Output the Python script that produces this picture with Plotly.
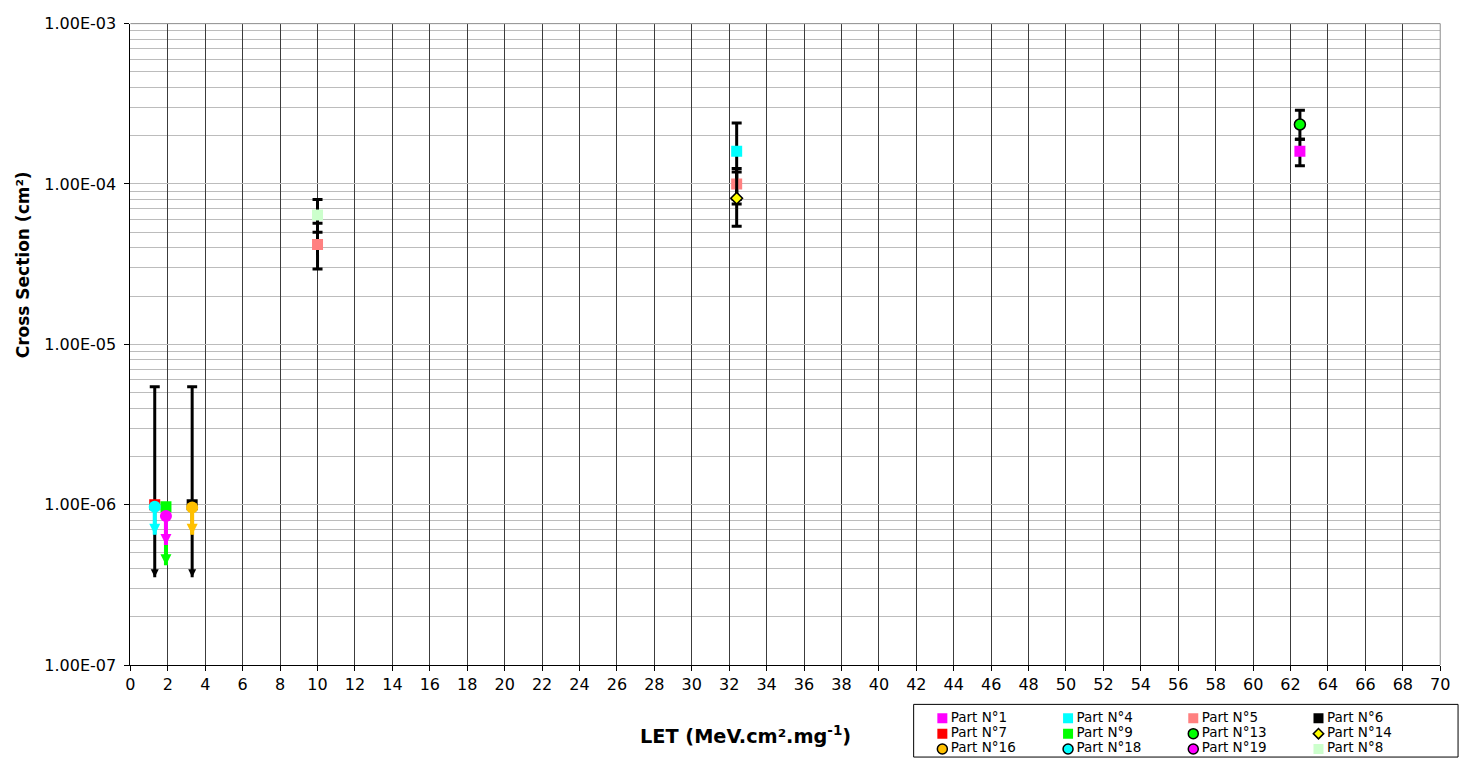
import plotly.graph_objects as go

# ---------------------------------------------------------------- data ----
part_names = ["Part N°1", "Part N°4", "Part N°5", "Part N°6",
              "Part N°7", "Part N°9", "Part N°13", "Part N°14",
              "Part N°16", "Part N°18", "Part N°19", "Part N°8"]

# LET of every measured point (MeV.cm².mg-1)
part_let = [[62.5], [32.4], [10.0, 32.4], [3.3],
            [1.3], [1.9], [62.5], [32.4],
            [3.3], [1.3], [1.9], [10.0]]

# measured cross sections (cm²)
part_sigma = [[1.6e-4], [1.6e-4], [4.2e-5, 1.0e-4], [1.0e-6],
              [1.0e-6], [9.7e-7], [2.35e-4], [8.15e-5],
              [9.6e-7], [9.7e-7], [8.5e-7], [6.4e-5]]

# upper / lower ends of the error bars (None: no bar)
part_sigma_hi = [[1.9e-4], [2.4e-4], [5.7e-5, 1.25e-4], [5.45e-6],
                 [5.45e-6], None, [2.88e-4], [1.19e-4],
                 None, None, None, [8.0e-5]]
part_sigma_lo = [[1.3e-4], [8.0e-5], [2.95e-5, 7.5e-5], None,
                 None, None, [1.9e-4], [5.46e-5],
                 None, None, None, [5.0e-5]]

# upper-limit points: cross section where the downward arrow ends
part_limit_end = [None, None, None, 3.53e-7,
                  3.53e-7, 4.2e-7, None, None,
                  6.5e-7, 6.5e-7, 5.6e-7, None]

x_tick_vals = list(range(0, 71, 2))
y_tick_vals = [1e-7, 1e-6, 1e-5, 1e-4, 1e-3]
y_tick_text = ["1.00E-07", "1.00E-06", "1.00E-05", "1.00E-04", "1.00E-03"]
y_minor_vals = [k * 10.0 ** e for e in range(-7, -3) for k in range(2, 10)]

# -------------------------------------------------------------- styles ----
FONT = "DejaVu Sans, Arial, sans-serif"
part_colors = ["#FF00FF", "#00FFFF", "#FF8080", "#000000",
               "#FF0000", "#00FF00", "#00FF00", "#FFFF00",
               "#FFC000", "#00FFFF", "#FF00FF", "#CCFFCC"]
part_symbols = ["square", "square", "square", "square",
                "square", "square", "circle", "diamond",
                "circle", "circle", "circle", "square"]
part_sizes = [11, 11, 11, 11, 11, 11, 11, 9, 12, 12, 12, 11]
part_edge = [0, 0, 0, 0, 0, 0, 1.5, 1.5, 0, 0, 0, 0]
legend_edge = [0, 0, 0, 0, 0, 0, 1.5, 1.5, 1.5, 1.5, 1.5, 0]
legend_sizes = [10, 10, 10, 10, 10, 10, 10, 8, 10, 10, 10, 10]
# arrows of the upper limits: black when drawn with an error bar
arrow_colors = [None, None, None, "#000000",
                "#000000", "#00FF00", None, None,
                "#FFC000", "#00FFFF", "#FF00FF", None]

fig = go.Figure()

for i, name in enumerate(part_names):
    xs = part_let[i]
    ys = part_sigma[i]

    # downward arrow for the upper-limit points, under the marker
    if part_limit_end[i] is not None:
        col = arrow_colors[i]
        black = col == "#000000"
        fig.add_trace(go.Scatter(
            x=[xs[0], xs[0]], y=[ys[0], part_limit_end[i]],
            mode="lines", line=dict(color=col, width=3 if black else 4),
            showlegend=False, hoverinfo="skip"))
        fig.add_trace(go.Scatter(
            x=[xs[0]], y=[part_limit_end[i]], mode="markers",
            marker=dict(symbol="arrow-down", size=8 if black else 11,
                        color=col, line=dict(width=0)),
            showlegend=False, hoverinfo="skip"))

    err = None
    if part_sigma_hi[i] is not None:
        plus = [h - v for h, v in zip(part_sigma_hi[i], ys)]
        if part_sigma_lo[i] is not None:
            minus = [v - l for l, v in zip(part_sigma_lo[i], ys)]
        else:
            minus = [0.0] * len(ys)
        err = dict(type="data", symmetric=False, array=plus, arrayminus=minus,
                   color="#000000", thickness=3, width=5)

    fig.add_trace(go.Scatter(
        x=xs, y=ys, mode="markers", name=name, error_y=err,
        marker=dict(symbol=part_symbols[i], size=part_sizes[i],
                    color=part_colors[i],
                    line=dict(color="#000000", width=part_edge[i])),
        showlegend=False))

# ------------------------------------------------------ legend block ------
# keys laid out on a small hidden axis pair measured in pixels
legend_col_x = [29, 156, 282.5, 409]
legend_row_y = [39.8, 24.0, 8.2]
for i, name in enumerate(part_names):
    cx = legend_col_x[i % 4]
    cy = legend_row_y[i // 4]
    fig.add_trace(go.Scatter(
        x=[cx], y=[cy], xaxis="x2", yaxis="y2", mode="markers",
        marker=dict(symbol=part_symbols[i], size=legend_sizes[i],
                    color=part_colors[i],
                    line=dict(color="#000000", width=legend_edge[i])),
        showlegend=False, hoverinfo="skip"))
    fig.add_trace(go.Scatter(
        x=[cx + 8.5], y=[cy], xaxis="x2", yaxis="y2", mode="text",
        text=[name], textposition="middle right",
        textfont=dict(family=FONT, size=13.5, color="black"),
        showlegend=False, hoverinfo="skip"))

W, H = 1473, 769
fig.update_layout(
    width=W, height=H,
    margin=dict(l=0, r=0, t=0, b=0),
    paper_bgcolor="white", plot_bgcolor="white",
    showlegend=False,
    font=dict(family=FONT, size=16, color="black"),
    xaxis=dict(domain=[126.7 / W, 1450 / W], range=[0, 70], anchor="y",
               tickmode="array", tickvals=x_tick_vals,
               ticks="outside", ticklen=5, tickcolor="black",
               showline=True, linecolor="black", linewidth=1,
               showgrid=True, gridcolor="#3c3c3c", gridwidth=1,
               zeroline=False, tickfont=dict(family=FONT, size=16)),
    yaxis=dict(type="log", domain=[(H - 672.7) / H, (H - 15) / H],
               range=[-7, -3], anchor="x",
               tickmode="array", tickvals=y_tick_vals, ticktext=y_tick_text,
               ticks="outside", ticklen=5, tickcolor="black",
               ticklabelstandoff=5,
               showline=True, linecolor="black", linewidth=1,
               showgrid=True, gridcolor="#bcbcbc", gridwidth=1,
               minor=dict(tickmode="array", tickvals=y_minor_vals,
                          showgrid=True, gridcolor="#bcbcbc", ticks=""),
               zeroline=False, tickfont=dict(family=FONT, size=16)),
    xaxis2=dict(domain=[918 / W, 1468 / W], range=[0, 550], anchor="y2",
                visible=False, fixedrange=True),
    yaxis2=dict(domain=[2 / H, 56 / H], range=[0, 54], anchor="x2",
                visible=False, fixedrange=True),
)

# plot-area frame (top and right edges)
fig.add_shape(type="line", xref="x domain", yref="y domain",
              x0=0, x1=1, y0=1, y1=1, line=dict(color="#8c8c8c", width=1),
              layer="above")
fig.add_shape(type="line", xref="x domain", yref="y domain",
              x0=1, x1=1, y0=0, y1=1, line=dict(color="#8c8c8c", width=1),
              layer="above")
# legend frame
fig.add_shape(type="rect", xref="x2 domain", yref="y2 domain",
              x0=0, x1=1, y0=0, y1=1, line=dict(color="#000000", width=1),
              fillcolor="rgba(0,0,0,0)", layer="below")

# axis titles
fig.add_annotation(x=748 / W, y=(H - 744) / H, xref="paper", yref="paper",
                   text="LET (MeV.cm².mg<sup>-1</sup>)", showarrow=False,
                   xanchor="center", yanchor="middle",
                   font=dict(family=FONT, size=19.3, color="black", weight="bold"))
fig.add_annotation(x=18 / W, y=(H - 262) / H, xref="paper", yref="paper",
                   text="Cross Section (cm²)", showarrow=False, textangle=-90,
                   xanchor="center", yanchor="middle",
                   font=dict(family=FONT, size=17, color="black", weight="bold"))

fig.write_html("out.html")
